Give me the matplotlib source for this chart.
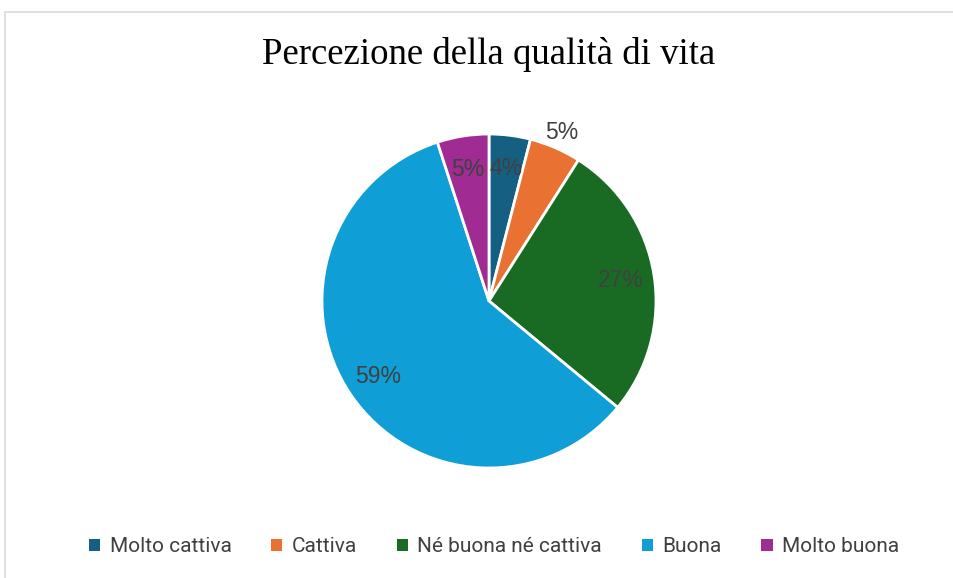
import matplotlib
matplotlib.use("Agg")
import matplotlib.pyplot as plt
from matplotlib.patches import Rectangle

categories = ["Molto cattiva", "Cattiva", "Né buona né cattiva", "Buona", "Molto buona"]
values = [4, 5, 27, 59, 5]
colors = ["#156082", "#E97132", "#196B24", "#0F9ED5", "#A02B93"]
title = "Percezione della qualità di vita"

fig = plt.figure(figsize=(9.54, 5.78), dpi=100)
fig.patch.set_facecolor("white")

# chart frame
fig.add_artist(Rectangle((5 / 954, -0.01), 1.0, 1 - 12 / 578 + 0.01,
                         transform=fig.transFigure, fill=False,
                         edgecolor="#d9d9d9", linewidth=1.2))

ax = fig.add_axes([(489 - 167) / 954, (578 - 301 - 167) / 578, 334 / 954, 334 / 578])
wedges, texts, autotexts = ax.pie(
    values, colors=colors, startangle=90, counterclock=False,
    autopct=lambda p: f"{p:.0f}%", pctdistance=0.80,
    wedgeprops=dict(edgecolor="white", linewidth=2),
    textprops=dict(color="#404040", fontsize=16.5, family="Liberation Sans"),
)
ax.set_aspect("equal")
ax.set_xlim(-1, 1)
ax.set_ylim(-1, 1)

# small "Cattiva" slice gets its label outside the pie
x1, y1 = autotexts[1].get_position()
autotexts[1].set_position((x1 / 0.80 * 1.10, y1 / 0.80 * 1.10))

fig.text(489 / 954, 1 - 55 / 578, title, ha="center", va="center",
         fontsize=26.5, family="Liberation Serif", color="black")

handles = [Rectangle((0, 0), 1, 1, facecolor=c) for c in colors]
fig.legend(handles, categories, loc="center", bbox_to_anchor=(494 / 954, 1 - 547 / 578),
           ncol=5, frameon=False, handlelength=0.55, handleheight=0.55,
           handletextpad=0.45, columnspacing=1.9,
           prop=dict(family=["Roboto", "DejaVu Sans"], size=15),
           labelcolor="#404040")

fig.savefig("out.png", dpi=100)
